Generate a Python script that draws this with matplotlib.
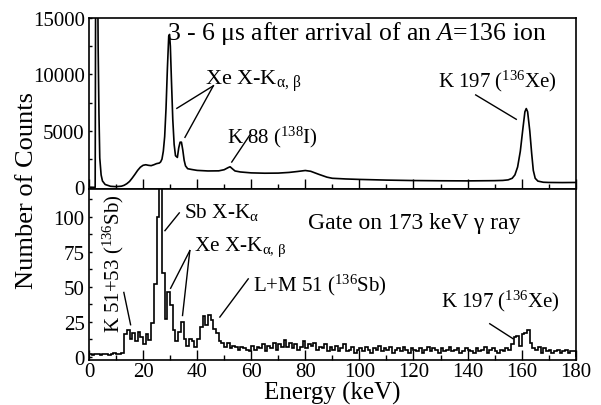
import numpy as np
import matplotlib
matplotlib.use('Agg')
import matplotlib.pyplot as plt
from matplotlib.ticker import MultipleLocator

plt.rcParams['font.family'] = ['Liberation Serif', 'DejaVu Serif']
plt.rcParams['mathtext.fontset'] = 'custom'
plt.rcParams['mathtext.rm'] = 'Liberation Serif'
plt.rcParams['mathtext.it'] = 'Liberation Serif:italic'
plt.rcParams['font.size'] = 15

# top spectrum: 3-6 us after arrival (energy in keV, counts)
top_energy = [0, 2.3, 2.5, 3.2, 3.4, 3.7, 4.0, 4.5, 5, 6, 8, 10, 12, 13, 14, 15, 16, 17, 18, 19,
              20, 21, 22, 23, 24, 25, 26, 26.5, 27, 27.5, 28, 28.5, 29, 29.5, 29.8, 30.1, 30.5,
              31, 31.5, 32, 32.7, 33.2, 33.7, 34.2, 34.7, 35.2, 35.7, 36.5, 38, 40, 44, 48, 50,
              51.5, 52.2, 53, 54, 56, 60, 65, 70, 74, 77, 80, 82, 85, 88, 90, 95, 100, 110, 120,
              130, 140, 150, 153, 155, 156.5, 157.5, 158.5, 159.5, 160.5, 161.2, 161.7, 162.2,
              163, 163.7, 164.3, 165, 166, 168, 170, 175, 180]
top_counts = [0, 0, 20000, 20000, 12400, 6500, 2600, 1100, 560, 250, 90, 60, 100, 180, 320, 520, 820,
              1150, 1500, 1780, 1950, 2000, 1950, 1920, 2000, 2100, 2150, 2250, 2500, 3200, 4500,
              7000, 10500, 13400, 13550, 12500, 9500, 6000, 3800, 2800, 2650, 3500, 4000, 4000,
              3300, 2400, 1900, 1650, 1580, 1500, 1450, 1460, 1560, 1750, 1820, 1650, 1450, 1360,
              1280, 1250, 1260, 1320, 1400, 1490, 1420, 1150, 900, 800, 740, 700, 640, 600, 580,
              570, 590, 610, 660, 800, 1100, 1800, 3200, 5300, 6700, 6980, 6700, 5000, 3000, 1500,
              800, 550, 450, 430, 420, 430]

# bottom spectrum: gate on 173 keV gamma ray, 1 keV bins
bin_edges = np.arange(0, 181, 1)
gated_counts = [2, 1, 2, 2, 1, 2, 2, 1, 2, 3, 2, 2, 3,
                16, 19, 13, 17, 11, 18, 14, 9, 16, 12, 24, 52, 100, 124, 60, 27, 46, 37, 19, 11,
                18, 25, 13, 8, 13, 11, 7, 13, 21, 29, 23, 30, 26, 20, 17, 11, 10, 7, 10, 6, 8, 7,
                5, 7, 6, 5, 4,
                8, 5, 7, 6, 9, 4, 8, 6, 10, 5, 9, 7, 12, 7, 10, 6, 9, 5, 7, 11,
                6, 9, 8, 10, 5, 7, 6, 9, 4, 7, 5, 8, 4, 6, 9, 4, 5, 7, 3, 5,
                6, 4, 7, 5, 3, 6, 5, 8, 4, 6, 5, 7, 3, 5, 6, 4, 7, 5, 3, 6,
                5, 4, 6, 3, 5, 7, 4, 6, 5, 3, 6, 4, 5, 7, 4, 5, 6, 3, 4, 6,
                5, 4, 3, 6, 4, 5, 7, 3, 5, 6, 4, 3, 5, 4, 6, 5, 9,
                14, 15, 8, 16, 17, 19, 10,
                6, 5, 7, 3, 6, 4, 5, 3, 4, 5, 3, 4, 5, 3, 4, 4]

fig = plt.figure(figsize=(6.01, 4.06), dpi=100)
ax1 = fig.add_axes([0.148, 0.532, 0.810, 0.421])
ax2 = fig.add_axes([0.148, 0.112, 0.810, 0.420])

ax1.plot(top_energy, top_counts, color='black', lw=1.2)
ax1.set_xlim(0, 180)
ax1.set_ylim(-150, 15000)
ax1.yaxis.set_major_locator(MultipleLocator(5000))
ax1.yaxis.set_minor_locator(MultipleLocator(2500))

ax2.stairs(gated_counts, bin_edges, color='black', lw=1.2)
ax2.set_xlim(0, 180)
ax2.set_ylim(-2, 120)
ax2.yaxis.set_major_locator(MultipleLocator(25))
ax2.yaxis.set_minor_locator(MultipleLocator(12.5))

for ax in (ax1, ax2):
    ax.xaxis.set_major_locator(MultipleLocator(20))
    ax.xaxis.set_minor_locator(MultipleLocator(10))
    ax.tick_params(axis='x', which='major', direction='in', length=7, width=1, pad=2)
    ax.tick_params(axis='x', which='minor', direction='in', length=3.5, width=1)
    ax.tick_params(axis='y', which='both', direction='in', length=2.5, width=1, pad=3)
    for s in ax.spines.values():
        s.set_linewidth(1.2)
ax1.tick_params(axis='x', which='both', labelbottom=False)

# top panel labels
ax1.text(99.2, 13750, '3 - 6 \u03bcs after arrival of an $A$=136 ion', ha='center', va='center', fontsize=18.5)
ax1.text(42.8, 9500, r'Xe X-K$_{\mathrm{\alpha,\,\beta}}$', ha='left', va='center', fontsize=16)
ax1.plot([46, 32.5], [9000, 7000], color='black', lw=1)
ax1.plot([46, 35.5], [9000, 4430], color='black', lw=1)
ax1.text(51, 4500, r'K 88 ($^{138}$I)', ha='left', va='center', fontsize=15)
ax1.plot([59.5, 52.8], [4640, 2240], color='black', lw=1)
ax1.text(129, 9500, r'K 197 ($^{136}$Xe)', ha='left', va='center', fontsize=15)
ax1.plot([143, 158], [8190, 6030], color='black', lw=1)

# bottom panel labels
ax2.text(120.3, 96, 'Gate on 173 keV \u03b3 ray', ha='center', va='center', fontsize=17)
ax2.text(35.3, 104, r'Sb X-K$_{\mathrm{\alpha}}$', ha='left', va='center', fontsize=15.3)
ax2.plot([33.4, 28.1], [102.9, 90.2], color='black', lw=1)
ax2.text(39, 79, r'Xe X-K$_{\mathrm{\alpha,\,\beta}}$', ha='left', va='center', fontsize=15.3)
ax2.plot([37.3, 30.2], [75.9, 49], color='black', lw=1)
ax2.plot([37.3, 34.6], [75.9, 29.5], color='black', lw=1)
ax2.text(60.5, 52, r'L+M 51 ($^{136}$Sb)', ha='left', va='center', fontsize=15)
ax2.plot([58.9, 48.4], [55.7, 28.4], color='black', lw=1)
ax2.text(8.9, 67, r'K 51+53 ($^{136}$Sb)', ha='center', va='center', rotation=90, fontsize=15)
ax2.plot([12.9, 15.4], [46, 22.9], color='black', lw=1)
ax2.text(130, 40, r'K 197 ($^{136}$Xe)', ha='left', va='center', fontsize=15)
ax2.plot([148.2, 156.8], [23.6, 12.9], color='black', lw=1)

ax2.set_xlabel('Energy (keV)', labelpad=0, fontsize=18)
fig.text(0.045, 0.53, 'Number of Counts', rotation=90, ha='center', va='center', fontsize=19)

fig.savefig('out.png', dpi=100)
